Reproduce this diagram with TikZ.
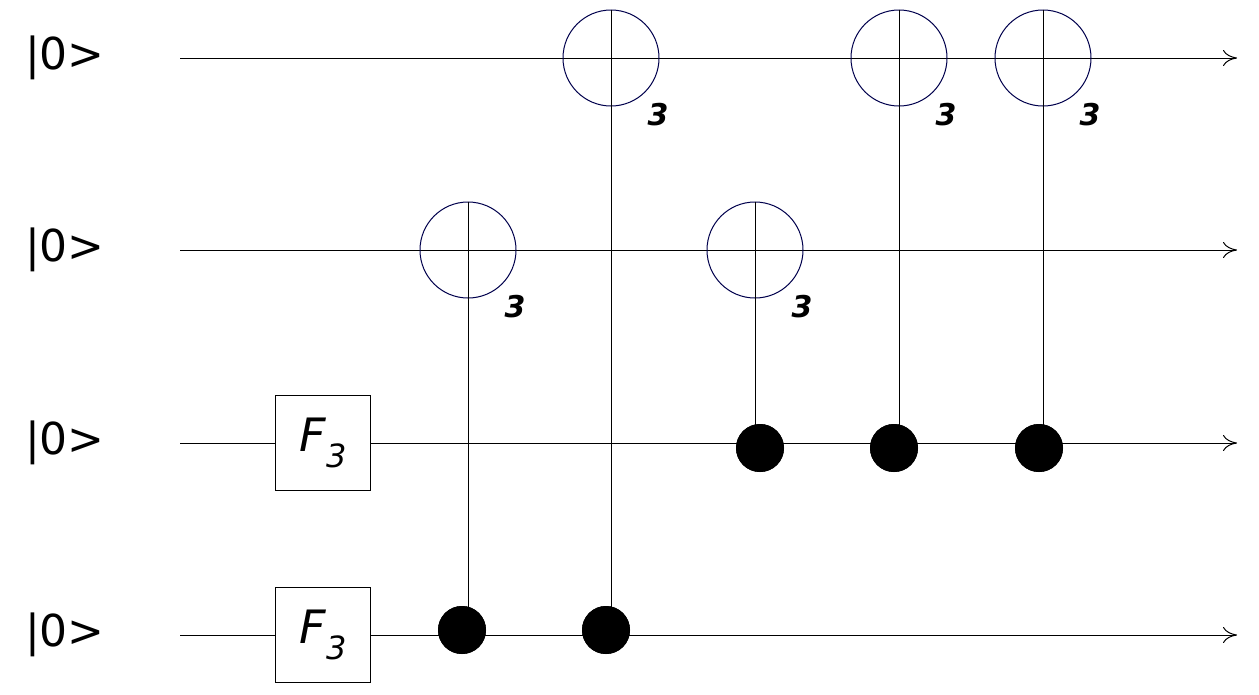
\documentclass[tikz,border=0pt]{standalone}
\usepackage{fontspec}
\setmainfont{DejaVu Sans}
\usetikzlibrary{arrows.meta}
\begin{document}
\begin{tikzpicture}[x=1pt,y=-1pt,
  wire/.style={line width=1pt,-{To[length=14pt,width=16pt]}},
  tgt/.style={circle,draw=black!70!blue,line width=1pt,minimum size=96pt,inner sep=0pt},
  ctl/.style={circle,fill=black,minimum size=48pt,inner sep=0pt},
  gate/.style={draw,line width=1pt,fill=white,minimum size=95pt,inner sep=0pt,font=\fontsize{46}{46}\selectfont\itshape},
  lab/.style={font=\fontsize{44}{44}\selectfont},
  num/.style={font=\fontsize{30}{30}\selectfont\bfseries\itshape}]
\useasboundingbox (0,0) rectangle (1259,694);
\foreach \y/\n in {58/a,250/b,443/c,635/d}{
  \node[lab] (l\n) at (65,\y) {|0>};
  \coordinate (s\n) at (180,\y);
  \coordinate (e\n) at (1237,\y);
  \draw[wire] (s\n) -- (e\n);
}
\node[gate] (g1) at (323,443) {F\raisebox{-0.35em}{\fontsize{32}{32}\selectfont 3}};
\node[gate] (g2) at (323,635) {F\raisebox{-0.35em}{\fontsize{32}{32}\selectfont 3}};
\node[tgt] (t1) at (611,58) {}; \node[tgt] (t2) at (899,58) {}; \node[tgt] (t3) at (1043,58) {};
\node[tgt] (t4) at (468,250) {}; \node[tgt] (t5) at (755,250) {};
\node[ctl] (c1) at (760,448) {}; \node[ctl] (c2) at (894,448) {}; \node[ctl] (c3) at (1039,448) {};
\node[ctl] (c4) at (462,630) {}; \node[ctl] (c5) at (606,630) {};
\foreach \t in {t1,t2,t3,t4,t5}{
  \draw[line width=1pt] (\t.north) -- (\t.south);
  \node[num] at ([shift={(47,57)}]\t.center) {3};
}
\draw[line width=1pt] (t4.north) -- (t4.north |- c4.center);
\draw[line width=1pt] (t1.north) -- (t1.north |- c5.center);
\draw[line width=1pt] (t5.north) -- (t5.north |- c1.center);
\draw[line width=1pt] (t2.north) -- (t2.north |- c2.center);
\draw[line width=1pt] (t3.north) -- (t3.north |- c3.center);
\foreach \c in {c1,c2,c3,c4,c5} \node[ctl] at (\c) {};
\end{tikzpicture}
\end{document}
